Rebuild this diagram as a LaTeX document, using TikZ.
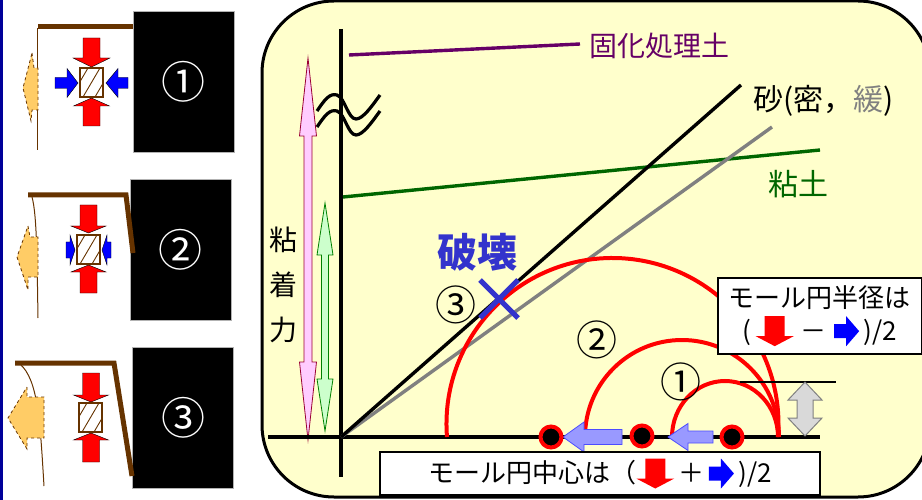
\documentclass[tikz,border=0pt]{standalone}
\usepackage{fontspec}
\setmainfont{Noto Sans CJK JP}
\usetikzlibrary{arrows.meta,positioning}

\definecolor{panelyellow}{RGB}{255,255,204}
\definecolor{wallbrown}{RGB}{102,51,0}
\definecolor{soilorange}{RGB}{255,204,102}
\definecolor{edgeblue}{RGB}{0,0,153}
\definecolor{curepurple}{RGB}{102,0,102}
\definecolor{claygreen}{RGB}{0,102,0}
\definecolor{sandgray}{RGB}{128,128,128}
\definecolor{failblue}{RGB}{51,51,204}
\definecolor{shiftblue}{RGB}{153,153,255}
\definecolor{pinkfill}{RGB}{255,204,255}
\definecolor{greenfill}{RGB}{204,255,204}

% block arrow: [style]{tail}{angle}{length}{shaft}{head width}{head length}
\newcommand{\blockarrow}[7][]{%
  \draw[#1,shift={#2},rotate=#3]
    (0,-#5/2) -- ({#4-#7},-#5/2) -- ({#4-#7},-#6/2) -- (#4,0)
    -- ({#4-#7},#6/2) -- ({#4-#7},#5/2) -- (0,#5/2) -- cycle;}

% double headed block arrow: [style]{centre}{angle}{length}{shaft}{head width}{head length}
\newcommand{\twinarrow}[7][]{%
  \draw[#1,shift={#2},rotate=#3]
    (-#4/2,0) -- ({-#4/2+#7},#6/2) -- ({-#4/2+#7},#5/2) -- ({#4/2-#7},#5/2)
    -- ({#4/2-#7},#6/2) -- (#4/2,0) -- ({#4/2-#7},-#6/2) -- ({#4/2-#7},-#5/2)
    -- ({-#4/2+#7},-#5/2) -- ({-#4/2+#7},-#6/2) -- cycle;}

% hatched soil element, top left corner given
\newcommand{\hatchbox}[1]{%
  \begin{scope}[shift={#1}]
    \begin{scope}
      \clip (0,0) rectangle (23,29);
      \foreach \d in {-9,3,15}
        \draw[wallbrown, line width=0.9pt] (\d,29) -- (\d+17,0);
    \end{scope}
    \draw[wallbrown, line width=1.6pt] (0,0) rectangle (23,29);
  \end{scope}}

% small arrows used inside the text boxes
\newcommand{\redpush}{\tikz[baseline=0pt,x=1pt,y=1pt]
  \fill[red] (-10,24) -- (10,24) -- (10,4) -- (19,4) -- (0,-6) -- (-19,4) -- (-10,4) -- cycle;}
\newcommand{\bluepush}{\tikz[baseline=0pt,x=1pt,y=1pt]
  \fill[blue] (0,2) -- (12,2) -- (12,-6) -- (25,9) -- (12,24) -- (12,16) -- (0,16) -- cycle;}

\begin{document}
\begin{tikzpicture}[
  x=1pt, y=-1pt,
  lbl/.style={font=\fontsize{28}{34}\selectfont, inner sep=0pt},
  numlbl/.style={font=\fontsize{41}{45}\selectfont, inner sep=0pt},
  statebox/.style={
    draw=gray!60,
    fill=black,
    text=white,
    minimum width=101pt,
    minimum height=141pt,
    font=\fontsize{44}{48}\selectfont
  },
  wall/.style={draw=wallbrown, line width=5pt, line join=miter},
  rootline/.style={draw=wallbrown, line width=1pt},
  soil/.style={draw=wallbrown, fill=soilorange, dashed, line width=0.8pt},
  press/.style={fill=red},
  confine/.style={fill=blue},
  panel/.style={draw=black, fill=panelyellow, line width=3pt, rounded corners=72pt},
  axisline/.style={line width=4pt},
  envelope/.style={line width=3.4pt},
  breakmark/.style={line width=3.2pt},
  mohr/.style={draw=red, line width=4pt},
  pole/.style={circle, fill=black, draw=red, line width=4pt, minimum size=21pt, inner sep=0pt},
  shiftarrow/.style={draw=blue!70, fill=shiftblue, line width=0.8pt},
  pinkarrow/.style={draw=purple!80!black, fill=pinkfill, line width=0.8pt},
  greenarrow/.style={draw=green!50!black, fill=greenfill, line width=0.8pt},
  gaparrow/.style={draw=gray, fill=gray!30, line width=1pt},
  infobox/.style={
    draw=black,
    fill=white,
    line width=1.5pt,
    align=center,
    inner sep=0pt,
    font=\fontsize{26}{33}\selectfont
  }
]
\useasboundingbox (0,0) rectangle (922,500);

% edge strip
\fill[edgeblue] (0,0) rectangle (3,500);

% State 1: wall still upright
\node[statebox] (state1) at (183.5,81.5) {①};
\draw[rootline] (37,28) -- (37,150);
\draw[wall] (38,27) -- (state1.north west |- 0,27);
\draw[soil] (32,53) -- (34,68) -- (38,68) -- (38,110) -- (32,110) -- (31,121) -- (23,88) -- cycle;
\blockarrow[press]{(91.5,38)}{-90}{29}{17}{37}{9}
\blockarrow[press]{(91.5,126)}{90}{28}{17}{36}{8}
\blockarrow[confine]{(55,83)}{0}{23}{11}{29}{11}
\blockarrow[confine]{(128,83)}{180}{22}{11}{29}{12}
\hatchbox{(80,68)}

% State 2: wall starts to lean
\node[statebox] (state2) at (180.5,249.5) {②};
\draw[rootline] (32,197) .. controls (37,215) and (37,260) .. (38,318);
\draw[wall] (28,195) -- (126,195) -- (133,253);
\draw[soil] (28,226) -- (30,237) -- (38,237) -- (38,277) -- (28,277) -- (28,290) -- (17,257) -- cycle;
\blockarrow[press]{(88.5,205)}{-90}{28}{17}{35}{7}
\blockarrow[press]{(88.5,293)}{90}{28}{17}{35}{7}
\blockarrow[confine]{(66,250)}{0}{9}{16}{30}{5}
\blockarrow[confine]{(111,250)}{180}{9}{16}{30}{5}
\hatchbox{(77,235)}

% State 3: no lateral support left
\node[statebox] (state3) at (183,417.5) {③};
\draw[rootline] (20,364) .. controls (38,380) and (40,420) .. (44,486);
\draw[wall] (15,363) -- (114,363) -- (132,476);
\draw[soil] (27,387) -- (27,397) -- (44,397) -- (44,438) -- (27,438) -- (27,449) -- (8,418) -- cycle;
\blockarrow[press]{(91,373)}{-90}{29}{17}{35}{7}
\blockarrow[press]{(91,462)}{90}{29}{17}{35}{7}
\hatchbox{(79,403)}

% Mohr diagram panel
\draw[panel] (262,1) rectangle (930,497);

% cohesion arrows
\twinarrow[pinkarrow]{(308,249)}{90}{382}{8}{17}{78}
\twinarrow[greenarrow]{(325,317)}{90}{228}{7}{16}{52}
\node[lbl, font=\fontsize{28}{45}\selectfont, align=center] (cohesion) at (283,285) {粘\\着\\力};

% axes
\coordinate (origin) at (341,437);
\draw[axisline] (268,437) -- (820,437);
\draw[axisline] (341,29) -- (341,477);
\foreach \dy in {0,16}
  \draw[breakmark, shift={(0,\dy)}] (317,111) .. controls (325,99) and (330,93) .. (337,95)
    .. controls (345,98) and (348,119) .. (356,119) .. controls (363,119) and (372,106) .. (380,95);

% failure envelopes
\coordinate (sanddense) at (741,85);
\coordinate (sandloose) at (772,127);
\draw[envelope, draw=curepurple] (349,55) -- (580,44);
\draw[envelope, draw=claygreen] (343,197) -- (820,150);
\draw[envelope, draw=sandgray] (origin) -- (sandloose);
\draw[envelope] (origin) -- (sanddense);

\node[lbl, text=curepurple, anchor=west] (cured) at (589,46) {固化処理土};
\node[lbl, font=\fontsize{30}{34}\selectfont, anchor=west] (sandlbl) at (753,101) {砂(密，\textcolor{sandgray}{緩})};
\node[lbl, font=\fontsize{30}{34}\selectfont, text=claygreen] (claylbl) at (798,184) {粘土};

% Mohr circles for the three states
\draw[mohr] (447,437) arc[start angle=175.5, end angle=364.5, radius=166];
\draw[mohr] (585,437) arc[start angle=180, end angle=360, radius=97];
\draw[mohr] (672,437) arc[start angle=180, end angle=360, x radius=53, y radius=56];

\node[numlbl] (n3) at (456,305) {③};
\node[numlbl] (n2) at (597,340) {②};
\node[numlbl] (n1) at (681,382) {①};

% failure point
\coordinate (failpt) at (499,299);
\draw[line width=5pt, draw=failblue] (480,280) -- (518,318) (480,318) -- (518,280);
\node[lbl, font=\fontsize{40}{44}\selectfont\bfseries, text=failblue] (failure) at (477,252) {破壊};

% centres moving left
\blockarrow[shiftarrow]{(713,437)}{180}{45}{12}{27}{20}
\blockarrow[shiftarrow]{(622,437)}{180}{59}{15}{30}{21}
\node[pole] (c1) at (732,437) {};
\node[pole] (c2) at (642,436) {};
\node[pole] (c3) at (551,437) {};

% radius of circle 1
\draw[line width=1.5pt] (740,382) -- (836,382);
\twinarrow[gaparrow]{(805,409)}{90}{54}{16}{34}{18}

% explanation boxes
\node[infobox, minimum width=204pt, minimum height=76pt, anchor=north west] (radbox)
  at (717,277) {モール円半径は\\(\,\redpush\;－\;\bluepush\,)/2};
\node[infobox, minimum width=440pt, minimum height=43pt] (ctrbox)
  at (600,473.5) {モール円中心は（\redpush\,＋\,\bluepush\,)/2};

\end{tikzpicture}
\end{document}
